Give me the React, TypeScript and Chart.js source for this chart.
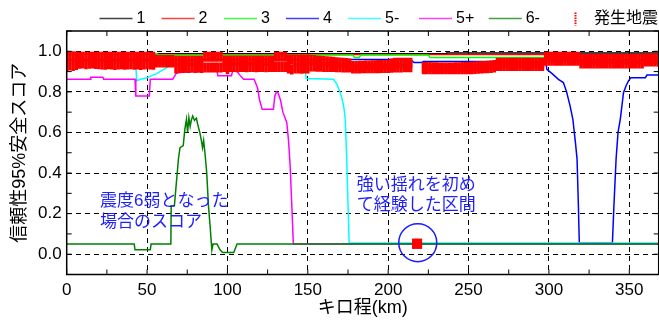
import React, { useEffect, useRef } from "react";
import { Chart, registerables } from "chart.js";

Chart.register(...registerables);

const X_MIN = 0;
const X_MAX = 368.3;
const Y_MIN = -0.1;
const Y_MAX = 1.1;

const xTickValues = [0, 25, 50, 75, 100, 125, 150, 175, 200, 225, 250, 275, 300, 325, 350];
const xLabelValues = [0, 50, 100, 150, 200, 250, 300, 350];
const yTickValues = [-0.1, 0, 0.1, 0.2, 0.3, 0.4, 0.5, 0.6, 0.7, 0.8, 0.9, 1.0, 1.1];
const yLabelValues = [0, 0.2, 0.4, 0.6, 0.8, 1.0];

const seriesLabels = ["1", "2", "3", "4", "5-", "5+", "6-"];
const seriesColors = ["#000000", "#ff0000", "#00ff00", "#0000ff", "#00ffff", "#ff00ff", "#008000"];
const quakeLabel = "発生地震";
const quakeColor = "#ff0000";
const xTitle = "キロ程(km)";
const yTitle = "信頼性95%安全スコア";
const note1 = ["震度6弱となった", "場合のスコア"];
const note2 = ["強い揺れを初め", "て経験した区間"];

// [km, score]
const s1: [number, number][] = [[0, 0.988], [236, 0.988], [236.5, 0.991], [368.3, 0.991]];
const s2: [number, number][] = [[0, 0.984], [368.3, 0.984]];
const s3: [number, number][] = [
  [0, 0.988], [56, 0.988], [57, 0.982], [178, 0.982], [179, 0.97], [182, 0.97], [183, 0.982],
  [225, 0.982], [226, 0.969], [298, 0.969], [299, 0.976], [368.3, 0.976],
];
const s4: [number, number][] = [
  [0, 0.96], [70, 0.96], [74, 0.955], [78, 0.955], [80, 0.96], [214, 0.96], [216, 0.945],
  [221, 0.945], [222, 0.95], [298, 0.95], [298.7, 0.911], [302, 0.89], [305.9, 0.862],
  [309, 0.846], [311, 0.8], [313.2, 0.73], [314.9, 0.665], [316.5, 0.55], [317.5, 0.47],
  [318.3, 0.25], [318.9, 0.055], [339.5, 0.055], [340.5, 0.25], [341.8, 0.47], [343, 0.6],
  [344.4, 0.665], [346.4, 0.796], [348, 0.83], [349.5, 0.854], [351, 0.87], [360, 0.87],
  [361, 0.883], [368.3, 0.883],
];
const s5m: [number, number][] = [
  [0, 0.94], [43, 0.94], [43.5, 0.855], [46, 0.862], [50, 0.87], [53, 0.88], [56, 0.89],
  [59, 0.905], [62, 0.918], [64, 0.93], [148, 0.93], [149, 0.866], [166, 0.862], [168, 0.84],
  [170, 0.8], [171.5, 0.76], [172.5, 0.72], [173.3, 0.665], [174.2, 0.47], [175, 0.25],
  [175.7, 0.055], [368.3, 0.055],
];
const s5p: [number, number][] = [
  [0, 0.862], [14.5, 0.862], [15, 0.872], [22.5, 0.872], [23, 0.862], [42.5, 0.862],
  [43, 0.78], [51.4, 0.78], [52, 0.862], [66, 0.862], [68, 0.89], [70, 0.895], [80, 0.9],
  [82, 0.92], [88, 0.92], [90, 0.91], [93.5, 0.91], [94, 0.88], [102.5, 0.88], [103.5, 0.911],
  [106, 0.9], [108, 0.88], [110, 0.862], [116.6, 0.862], [118.7, 0.82], [120, 0.76],
  [121.6, 0.714], [128.6, 0.714], [129.5, 0.78], [130.5, 0.8], [131.5, 0.795], [133, 0.76],
  [134.5, 0.7], [136.9, 0.649], [138, 0.56], [139, 0.44], [140, 0.25], [141, 0.05], [368.3, 0.05],
];
const s6m: [number, number][] = [
  [0, 0.05], [42, 0.05], [42.5, 0.022], [52, 0.022], [52.5, 0.05], [64.8, 0.05], [65, 0.238],
  [67, 0.24], [69.5, 0.468], [70.5, 0.525], [72.5, 0.535], [73.5, 0.616], [74.5, 0.665],
  [75.2, 0.6], [76, 0.673], [76.8, 0.63], [77.5, 0.66], [78.4, 0.681], [79.5, 0.66],
  [80.7, 0.67], [81.5, 0.64], [82.8, 0.6], [83.8, 0.56], [84.5, 0.525], [85.2, 0.56],
  [86, 0.5], [87.1, 0.402], [88.2, 0.238], [89.2, 0.14], [90.3, 0.021], [91, 0.05],
  [93.5, 0.05], [95.5, 0.02], [97, 0.008], [103.9, 0.008], [106, 0.05], [368.3, 0.05],
];

// earthquake markers: km, upper marker score, lower marker score
const quakeKm = [
  0, 2, 4, 6, 8, 10, 12, 14, 16, 18, 20, 22, 24, 26, 28, 30, 32, 34, 36, 38, 40, 42, 44, 46, 48,
  50, 52, 54, 56, 58, 60, 62, 64, 66, 68, 70, 72, 74, 76, 78, 80, 82, 84, 86, 88, 90, 92, 94, 96,
  98, 100, 102, 104, 106, 108, 110, 112, 114, 116, 118, 120, 122, 124, 126, 128, 130, 132, 134,
  136, 138, 140, 142, 144, 146, 148, 150, 152, 154, 156, 158, 160, 162, 164, 166, 168, 170, 172,
  174, 176, 178, 180, 182, 184, 186, 188, 190, 192, 194, 196, 198, 200, 202, 204, 206, 208, 210,
  212, 214, 216, 218, 220, 222, 224, 226, 228, 230, 232, 234, 236, 238, 240, 242, 244, 246, 248,
  250, 252, 254, 256, 258, 260, 262, 264, 266, 268, 270, 272, 274, 276, 278, 280, 282, 284, 286,
  288, 290, 292, 294, 296, 298, 300, 302, 304, 306, 308, 310, 312, 314, 316, 318, 320, 322, 324,
  326, 328, 330, 332, 334, 336, 338, 340, 342, 344, 346, 348, 350, 352, 354, 356, 358, 360, 362,
  364, 366, 368,
];
const quakeHi = [
  0.975, 0.976, 0.975, 0.974,
  0.973, 0.973, 0.973, 0.973, 0.973, 0.973, 0.973,
  0.973, 0.973, 0.973, 0.973, 0.973, 0.973, 0.973, 0.973, 0.973, 0.973, 0.973, 0.973, 0.973, 0.973, 0.973, 0.973, 0.973,
  0.957, 0.957, 0.957, 0.957, 0.957, 0.957,
  0.953, 0.953, 0.953, 0.953, 0.953, 0.953, 0.953, 0.953, 0.953,
  0.973, 0.973, 0.973, 0.973, 0.973, 0.973,
  0.955, 0.955, 0.955, 0.955, 0.955, 0.955, 0.955, 0.955, 0.955, 0.955, 0.955, 0.955, 0.955, 0.955, 0.955, 0.955,
  0.973, 0.973, 0.973, 0.973,
  0.96, 0.96, 0.96, 0.96, 0.96, 0.96, 0.96,
  0.958, 0.957, 0.955, 0.954, 0.952, 0.951, 0.95, 0.948, 0.946, 0.945, 0.943, 0.942, 0.94,
  0.928, 0.928, 0.929, 0.929, 0.93, 0.93, 0.931, 0.931, 0.932, 0.932, 0.933, 0.934, 0.94, 0.943, 0.944, 0.944, 0.944, 0.944, 0.944,
  0.052, 0.052, 0.052,
  0.922, 0.922, 0.922, 0.921, 0.921, 0.92, 0.92, 0.92, 0.92, 0.92, 0.921, 0.921, 0.922, 0.922, 0.923, 0.924, 0.925, 0.926, 0.927, 0.928, 0.929, 0.93, 0.932,
  0.944, 0.944, 0.944, 0.944, 0.944, 0.944, 0.944, 0.944, 0.944, 0.944, 0.944, 0.944, 0.944, 0.944, 0.944,
  0.973, 0.973, 0.973, 0.973, 0.973, 0.973, 0.973, 0.973, 0.973, 0.973, 0.973,
  0.96, 0.96, 0.96, 0.96, 0.96, 0.96, 0.96, 0.96, 0.96, 0.96, 0.96, 0.96, 0.96, 0.96, 0.96, 0.96, 0.96, 0.96, 0.96, 0.96,
  0.965, 0.965, 0.965, 0.965, 0.965,
];
const quakeLo = [
  0.928, 0.93, 0.927, 0.932,
  0.938, 0.94, 0.936, 0.938, 0.94, 0.937, 0.936,
  0.935, 0.934, 0.936, 0.935, 0.933, 0.935, 0.936, 0.934, 0.935, 0.936, 0.934, 0.935, 0.933, 0.935, 0.936, 0.935, 0.934,
  0.945, 0.945, 0.945, 0.945, 0.945, 0.945,
  0.915, 0.918, 0.918, 0.919, 0.918, 0.92, 0.918, 0.919, 0.918,
  0.92, 0.92, 0.92, 0.92, 0.92, 0.92,
  0.922, 0.912, 0.922, 0.922, 0.921, 0.922, 0.922, 0.921, 0.922, 0.922, 0.921, 0.922, 0.922, 0.921, 0.922, 0.922,
  0.922, 0.922, 0.922, 0.922,
  0.915, 0.91, 0.915, 0.915, 0.914, 0.915, 0.915,
  0.925, 0.925, 0.924, 0.924, 0.923, 0.923, 0.922, 0.922, 0.921, 0.921, 0.92, 0.92, 0.92,
  0.915, 0.915, 0.915, 0.916, 0.916, 0.916, 0.917, 0.917, 0.917, 0.918, 0.918, 0.918, 0.919, 0.92, 0.92, 0.92, 0.921, 0.921, 0.921,
  0.052, 0.052, 0.052,
  0.911, 0.911, 0.911, 0.911, 0.911, 0.911, 0.911, 0.911, 0.911, 0.911, 0.911, 0.911, 0.911, 0.911, 0.911, 0.912, 0.913, 0.914, 0.915, 0.916, 0.917, 0.918, 0.92,
  0.928, 0.928, 0.928, 0.928, 0.928, 0.928, 0.928, 0.928, 0.928, 0.928, 0.928, 0.928, 0.928, 0.928, 0.928,
  0.953, 0.953, 0.953, 0.953, 0.953, 0.953, 0.953, 0.953, 0.953, 0.953, 0.953,
  0.94, 0.94, 0.94, 0.94, 0.94, 0.94, 0.94, 0.94, 0.94, 0.94, 0.94, 0.94, 0.94, 0.94, 0.94, 0.94, 0.94, 0.94, 0.94, 0.94,
  0.95, 0.95, 0.95, 0.95, 0.95,
];

// highlighted section (circle)
const circleKm = [218.4];
const circleScore = [0.057];

// annotation anchors [km, score] for the first line of each note
const note1At: [number, number] = [20.7, 0.259];
const note2At: [number, number] = [180.4, 0.341];

const LATIN = "'Liberation Sans', Arial, 'Noto Sans CJK JP', sans-serif";
const CJK = "'Liberation Sans', 'Noto Sans CJK JP', sans-serif";

const toPts = (arr: [number, number][]) => arr.map(([x, y]) => ({ x, y }));
const near = (a: number, b: number) => Math.abs(a - b) < 1e-6;

const decorPlugin = {
  id: "decor",
  afterDraw(chart: any) {
    const { ctx, chartArea: a, scales } = chart;
    const xs = scales.x;
    const ys = scales.y;
    ctx.save();
    // frame
    ctx.strokeStyle = "#000";
    ctx.lineWidth = 1.5;
    ctx.setLineDash([]);
    ctx.strokeRect(a.left, a.top, a.right - a.left, a.bottom - a.top);
    // inward ticks
    ctx.lineWidth = 1;
    ctx.beginPath();
    xs.ticks.forEach((t: any) => {
      const px = xs.getPixelForValue(t.value);
      ctx.moveTo(px, a.bottom);
      ctx.lineTo(px, a.bottom - 5);
      ctx.moveTo(px, a.top);
      ctx.lineTo(px, a.top + 5);
    });
    ys.ticks.forEach((t: any) => {
      const py = ys.getPixelForValue(t.value);
      ctx.moveTo(a.left, py);
      ctx.lineTo(a.left + 5, py);
      ctx.moveTo(a.right, py);
      ctx.lineTo(a.right - 5, py);
    });
    ctx.stroke();

    // annotations
    ctx.fillStyle = "#1e1eff";
    ctx.font = `17px ${CJK}`;
    ctx.textAlign = "left";
    ctx.textBaseline = "middle";
    const n1x = xs.getPixelForValue(note1At[0]);
    const n1y = ys.getPixelForValue(note1At[1]);
    note1.forEach((s, i) => ctx.fillText(s, n1x, n1y + i * 21));
    const n2x = xs.getPixelForValue(note2At[0]);
    const n2y = ys.getPixelForValue(note2At[1]);
    note2.forEach((s, i) => ctx.fillText(s, n2x, n2y + i * 20));

    // axis titles
    ctx.fillStyle = "#000";
    ctx.font = `18px ${CJK}`;
    ctx.textAlign = "center";
    ctx.fillText(xTitle, (a.left + a.right) / 2, 308);
    ctx.save();
    ctx.translate(20, (a.top + a.bottom) / 2);
    ctx.rotate(-Math.PI / 2);
    ctx.fillText(yTitle, 0, 0);
    ctx.restore();

    // legend
    const legendY = 18.5;
    const starts = [99.5, 161.6, 224, 286, 348, 419, 488.7];
    ctx.font = `16px ${LATIN}`;
    ctx.textAlign = "left";
    ctx.lineWidth = 1.5;
    seriesLabels.forEach((lab, i) => {
      const x0 = starts[i];
      ctx.strokeStyle = seriesColors[i];
      ctx.globalAlpha = 0.75;
      ctx.beginPath();
      ctx.moveTo(x0, legendY);
      ctx.lineTo(x0 + 33, legendY);
      ctx.stroke();
      ctx.globalAlpha = 1;
      ctx.fillStyle = "#000";
      ctx.fillText(lab, x0 + 37, legendY);
    });
    ctx.strokeStyle = quakeColor;
    ctx.lineWidth = 2;
    ctx.setLineDash([1.5, 1]);
    ctx.beginPath();
    ctx.moveTo(575.5, 12.5);
    ctx.lineTo(575.5, 25.5);
    ctx.stroke();
    ctx.setLineDash([]);
    ctx.fillStyle = "#000";
    ctx.font = `16px ${CJK}`;
    ctx.fillText(quakeLabel, 594, legendY);
    ctx.restore();
  },
};

export default function App() {
  const ref = useRef<HTMLCanvasElement | null>(null);

  useEffect(() => {
    if (!ref.current) return;
    const lineSeries = [s1, s2, s3, s4, s5m, s5p, s6m];
    const lineSets = lineSeries.map((s, i) => ({
      label: seriesLabels[i],
      data: toPts(s),
      showLine: true,
      borderColor: seriesColors[i],
      backgroundColor: seriesColors[i],
      borderWidth: 1.5,
      pointRadius: 0,
      tension: 0,
      fill: false,
      order: 10 - i,
    }));
    const quakePts: { x: number; y: number }[] = [];
    quakeKm.forEach((k, i) => {
      quakePts.push({ x: k, y: quakeHi[i] });
      quakePts.push({ x: k, y: quakeLo[i] });
    });
    const quakeSet = {
      label: quakeLabel,
      data: quakePts,
      showLine: false,
      pointStyle: "line",
      pointRotation: 90,
      pointRadius: 5,
      pointBorderWidth: 3.5,
      pointBorderColor: quakeColor,
      pointBackgroundColor: quakeColor,
      order: 0,
    };
    const circleSet = {
      label: "circle",
      data: circleKm.map((k, i) => ({ x: k, y: circleScore[i] })),
      showLine: false,
      pointStyle: "circle",
      pointRadius: 19,
      pointBorderWidth: 1.5,
      pointBorderColor: "#1a1aff",
      pointBackgroundColor: "rgba(0,0,0,0)",
      order: 1,
    };

    const isXLabel = (v: number) => xLabelValues.some((l) => near(l, v));
    const isYLabel = (v: number) => yLabelValues.some((l) => near(l, v));
    const zeroPad = (s: any) => {
      s.paddingLeft = 0;
      s.paddingRight = 0;
      s.paddingTop = 0;
      s.paddingBottom = 0;
    };

    const chart = new Chart(ref.current, {
      type: "scatter",
      data: { datasets: [...lineSets, quakeSet, circleSet] as any },
      options: {
        animation: false,
        responsive: false,
        devicePixelRatio: 1,
        events: [],
        layout: { autoPadding: false, padding: { top: 31, right: 0.3, left: 0, bottom: 0 } },
        plugins: { legend: { display: false }, tooltip: { enabled: false } },
        scales: {
          x: {
            type: "linear",
            min: X_MIN,
            max: X_MAX,
            bounds: "data",
            afterFit: (s: any) => { s.height = 46.5; zeroPad(s); },
            afterBuildTicks: (s: any) => {
              s.min = X_MIN;
              s.max = X_MAX;
              s.ticks = xTickValues.map((v) => ({ value: v }));
            },
            ticks: {
              autoSkip: false,
              maxRotation: 0,
              minRotation: 0,
              padding: 6,
              color: "#000",
              font: { family: LATIN, size: 17 },
              callback: (v: any) => (isXLabel(Number(v)) ? String(Math.round(Number(v))) : ""),
            },
            grid: {
              drawTicks: false,
              lineWidth: 1,
              color: (c: any) =>
                c.tick && isXLabel(c.tick.value) && c.tick.value > X_MIN ? "#000" : "rgba(0,0,0,0)",
            },
            border: { display: false, dash: [5, 4] },
          },
          y: {
            type: "linear",
            min: Y_MIN,
            max: Y_MAX,
            bounds: "data",
            afterFit: (s: any) => { s.width = 66.7; zeroPad(s); },
            afterBuildTicks: (s: any) => {
              s.min = Y_MIN;
              s.max = Y_MAX;
              s.ticks = yTickValues.map((v) => ({ value: v }));
            },
            ticks: {
              autoSkip: false,
              padding: 5,
              color: "#000",
              font: { family: LATIN, size: 17 },
              callback: (v: any) => (isYLabel(Number(v)) ? Number(v).toFixed(1) : ""),
            },
            grid: {
              drawTicks: false,
              lineWidth: 1,
              color: (c: any) => (c.tick && isYLabel(c.tick.value) ? "#000" : "rgba(0,0,0,0)"),
            },
            border: { display: false, dash: [5, 4] },
          },
        },
      },
      plugins: [decorPlugin],
    } as any);
    return () => chart.destroy();
  }, []);

  return (
    <div style={{ position: "fixed", left: 0, top: 0, width: 659, height: 321, background: "#fff" }}>
      <canvas ref={ref} width={659} height={321} style={{ display: "block", width: 659, height: 321 }} />
    </div>
  );
}
